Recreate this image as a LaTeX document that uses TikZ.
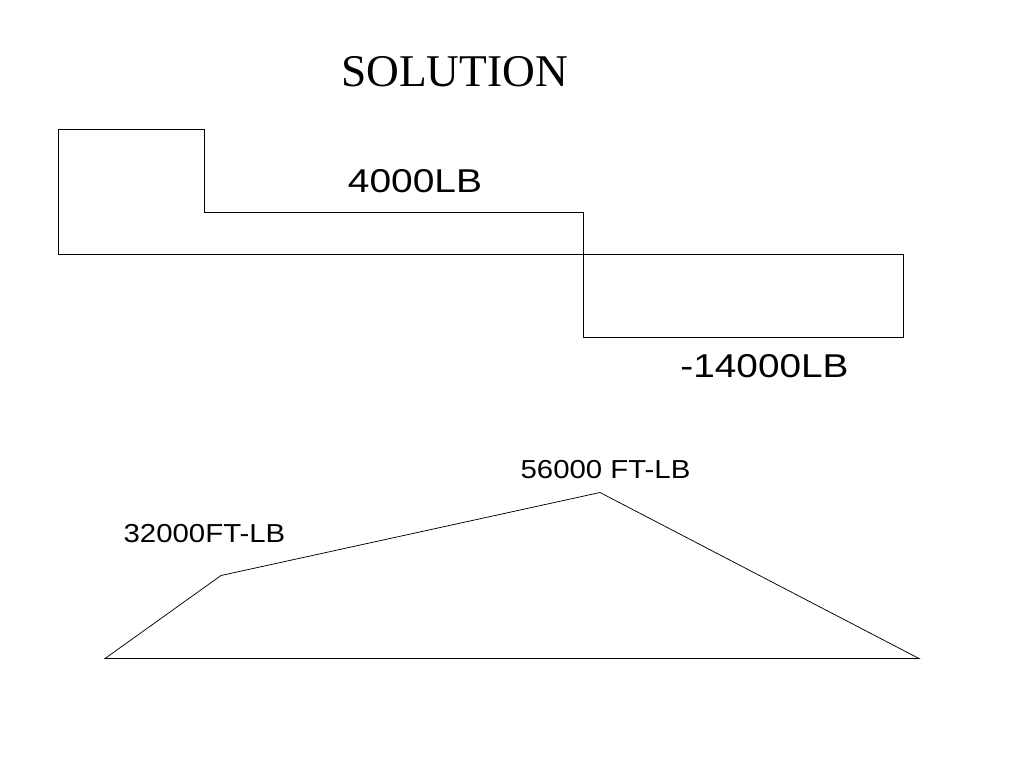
\documentclass[tikz,border=0pt]{standalone}
\usepackage{fontspec}
\setmainfont{Liberation Serif}
\newfontfamily\sansf{Liberation Sans}
\tikzset{lbl/.style={inner sep=0pt,font=\sansf,text=black},ttl/.style={inner sep=0pt},ln/.style={draw=black,line width=0.75pt,line join=miter}}
\begin{document}
\begin{tikzpicture}[x=1pt,y=-1pt]
\useasboundingbox (0,0) rectangle (1024,768);
\fill[white] (0,0) rectangle (1024,768);
\node[ttl,font=\fontsize{45.4}{45.4}\selectfont] (title) at (454.5,72) {SOLUTION};
\node[lbl,font=\sansf\fontsize{33}{33}\selectfont,xscale=1.18] (a) at (415,181) {4000LB};
\node[lbl,font=\sansf\fontsize{33}{33}\selectfont,xscale=1.175] (b) at (764.5,366) {-14000LB};
\node[lbl,font=\sansf\fontsize{26}{26}\selectfont,xscale=1.13] (c) at (605.5,470) {56000 FT-LB};
\node[lbl,font=\sansf\fontsize{26}{26}\selectfont,xscale=1.13] (d) at (204.5,534) {32000FT-LB};
\draw[ln] (58.7,254) -- (58.7,129.5) -- (204.7,129.5) -- (204.7,212) -- (583.5,212) -- (583.5,337) -- (903.7,337) -- (903.7,254) -- cycle;
\draw[ln] (105,658.5) -- (221,575.5) -- (600,492.5) -- (919,658.5) -- cycle;
\end{tikzpicture}
\end{document}
